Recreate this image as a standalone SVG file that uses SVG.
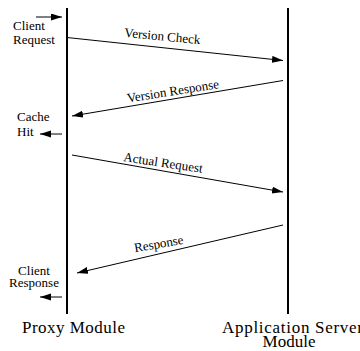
<svg xmlns="http://www.w3.org/2000/svg" width="360" height="351" viewBox="0 0 360 351">
<style>
.life{stroke:#000;stroke-width:2;fill:none}
.conn{stroke:#000;stroke-width:1;fill:none;marker-end:url(#ah)}
.sm{font-family:"Liberation Serif","Times New Roman",serif;font-size:13px;fill:#000}
.big{font-family:"Liberation Serif","Times New Roman",serif;font-size:17px;fill:#000}
</style>
<defs>
<marker id="ah" markerUnits="userSpaceOnUse" markerWidth="12" markerHeight="8" refX="11" refY="3.5" orient="auto">
<path d="M0,0 L11,3.5 L0,7 z" fill="#000"/>
</marker>
</defs>
<rect width="360" height="351" fill="#fff"/>
<g id="proxy">
<line class="life" x1="67" y1="8" x2="67" y2="314"/>
<text class="big" x="22" y="333" textLength="103">Proxy Module</text>
</g>
<g id="appserver">
<line class="life" x1="288" y1="8" x2="288" y2="314"/>
<text class="big" x="222" y="333" textLength="141">Application Server</text>
<text class="big" x="289" y="347" text-anchor="middle">Module</text>
</g>
<g id="client-request">
<text class="sm" x="13" y="30">Client</text>
<text class="sm" x="13" y="44">Request</text>
</g>
<g id="cache-hit">
<text class="sm" x="17" y="121">Cache</text>
<text class="sm" x="17" y="136">Hit</text>
</g>
<g id="client-response">
<text class="sm" x="34" y="275" text-anchor="middle">Client</text>
<text class="sm" x="34" y="287" text-anchor="middle">Response</text>
</g>
<g id="connectors">
<line class="conn" x1="36" y1="17" x2="62" y2="17"/>
<line class="conn" x1="62" y1="134" x2="40" y2="134"/>
<line class="conn" x1="62" y1="297" x2="40" y2="297"/>
<line class="conn" x1="67" y1="37.5" x2="283" y2="60.5"/>
<line class="conn" x1="283" y1="80.5" x2="72" y2="116"/>
<line class="conn" x1="72" y1="155" x2="283" y2="192"/>
<line class="conn" x1="283" y1="225" x2="77" y2="273"/>
<text class="sm" transform="translate(162,40.5) rotate(5.5)" text-anchor="middle">Version Check</text>
<text class="sm" transform="translate(173.5,95.3) rotate(-9)" text-anchor="middle">Version Response</text>
<text class="sm" transform="translate(162.5,167) rotate(8.5)" text-anchor="middle">Actual Request</text>
<text class="sm" transform="translate(159.5,248) rotate(-10)" text-anchor="middle">Response</text>
</g>
</svg>
